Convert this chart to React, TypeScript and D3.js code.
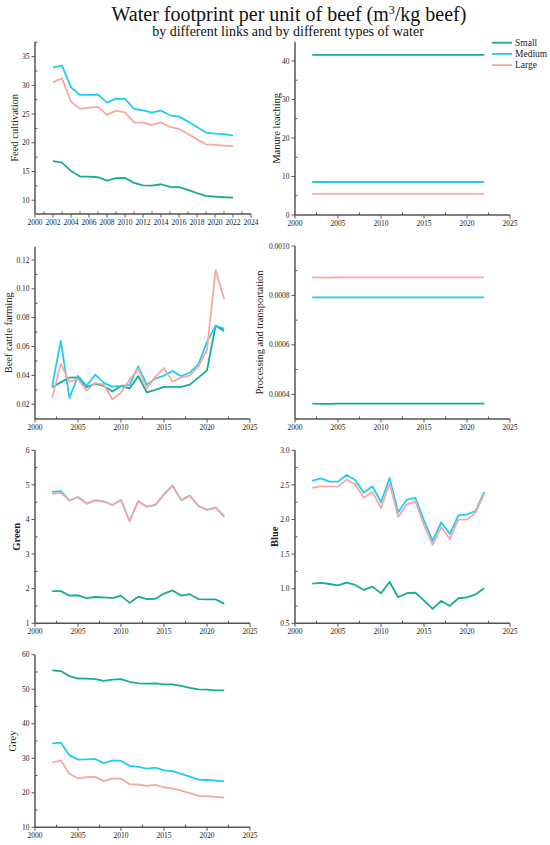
import React from "react";
import * as d3 from "d3";

const years = [2002, 2003, 2004, 2005, 2006, 2007, 2008, 2009, 2010, 2011, 2012, 2013, 2014, 2015, 2016, 2017, 2018, 2019, 2020, 2021, 2022];
const sizes = ["Small", "Medium", "Large"];
const colors = ["#17ad92", "#1ecdf6", "#f8a89f"];

// Feed cultivation
const feedSmall = [16.79, 16.55, 15.1, 14.12, 14.12, 14.0, 13.42, 13.83, 13.89, 13.0, 12.6, 12.55, 12.78, 12.32, 12.26, 11.8, 11.22, 10.76, 10.64, 10.52, 10.46];
const feedMedium = [33.14, 33.43, 29.66, 28.33, 28.33, 28.39, 27.0, 27.7, 27.63, 25.9, 25.66, 25.26, 25.6, 24.79, 24.56, 23.7, 22.76, 21.78, 21.6, 21.49, 21.25];
const feedLarge = [30.53, 31.23, 27.17, 25.9, 26.13, 26.24, 24.85, 25.6, 25.3, 23.57, 23.5, 23.1, 23.57, 22.76, 22.41, 21.54, 20.6, 19.74, 19.63, 19.51, 19.4];

// Manure leaching
const manureSmall = [41.6, 41.6, 41.6, 41.6, 41.6, 41.6, 41.6, 41.6, 41.6, 41.6, 41.6, 41.6, 41.6, 41.6, 41.6, 41.6, 41.6, 41.6, 41.6, 41.6, 41.6];
const manureMedium = [8.57, 8.57, 8.57, 8.57, 8.57, 8.57, 8.57, 8.57, 8.57, 8.57, 8.57, 8.57, 8.57, 8.57, 8.57, 8.57, 8.57, 8.57, 8.57, 8.57, 8.57];
const manureLarge = [5.5, 5.5, 5.5, 5.5, 5.5, 5.5, 5.5, 5.5, 5.5, 5.5, 5.5, 5.5, 5.5, 5.5, 5.5, 5.5, 5.5, 5.5, 5.5, 5.5, 5.5];

// Beef cattle farming
const farmSmall = [0.0318, 0.0352, 0.0385, 0.0387, 0.0318, 0.0343, 0.0327, 0.0288, 0.0327, 0.031, 0.0396, 0.0283, 0.03, 0.032, 0.032, 0.032, 0.0336, 0.0385, 0.0436, 0.0745, 0.0708];
const farmMedium = [0.0327, 0.0639, 0.0244, 0.0396, 0.0329, 0.0405, 0.0348, 0.0322, 0.0327, 0.0334, 0.0463, 0.0336, 0.0378, 0.0399, 0.0431, 0.0394, 0.042, 0.0477, 0.0632, 0.0743, 0.0724];
const farmLarge = [0.0246, 0.048, 0.0357, 0.0373, 0.0295, 0.0348, 0.0336, 0.0235, 0.0281, 0.0369, 0.0445, 0.031, 0.0392, 0.045, 0.0357, 0.0387, 0.0399, 0.0463, 0.0576, 0.113, 0.093];

// Processing and transportation
const procSmall = [0.000362, 0.000361, 0.000361, 0.000362, 0.000362, 0.000362, 0.000362, 0.000362, 0.000362, 0.000362, 0.000362, 0.000362, 0.000362, 0.000362, 0.000362, 0.000362, 0.000362, 0.000362, 0.000362, 0.000362, 0.000362];
const procMedium = [0.000792, 0.000792, 0.000792, 0.000792, 0.000792, 0.000792, 0.000792, 0.000792, 0.000792, 0.000792, 0.000792, 0.000792, 0.000792, 0.000792, 0.000792, 0.000792, 0.000792, 0.000792, 0.000792, 0.000792, 0.000792];
const procLarge = [0.000873, 0.000872, 0.000872, 0.000873, 0.000873, 0.000873, 0.000873, 0.000873, 0.000873, 0.000873, 0.000873, 0.000873, 0.000873, 0.000873, 0.000873, 0.000873, 0.000873, 0.000873, 0.000873, 0.000873, 0.000873];

// Green water
const greenSmall = [1.93, 1.93, 1.8, 1.81, 1.73, 1.76, 1.75, 1.73, 1.8, 1.59, 1.77, 1.7, 1.71, 1.86, 1.95, 1.8, 1.84, 1.7, 1.69, 1.69, 1.57];
const greenMedium = [4.8, 4.82, 4.55, 4.65, 4.46, 4.55, 4.52, 4.42, 4.56, 3.96, 4.53, 4.37, 4.42, 4.73, 4.98, 4.56, 4.69, 4.39, 4.28, 4.34, 4.08];
const greenLarge = [4.74, 4.77, 4.55, 4.65, 4.46, 4.55, 4.52, 4.42, 4.56, 3.96, 4.53, 4.37, 4.42, 4.73, 4.98, 4.56, 4.69, 4.39, 4.28, 4.34, 4.11];

// Blue water
const blueSmall = [1.073, 1.083, 1.068, 1.049, 1.088, 1.054, 0.982, 1.03, 0.934, 1.097, 0.876, 0.934, 0.943, 0.828, 0.708, 0.823, 0.751, 0.862, 0.876, 0.919, 1.006];
const blueMedium = [2.557, 2.595, 2.547, 2.547, 2.644, 2.571, 2.388, 2.48, 2.249, 2.6, 2.104, 2.287, 2.311, 1.988, 1.69, 1.96, 1.79, 2.06, 2.075, 2.123, 2.4];
const blueLarge = [2.456, 2.48, 2.48, 2.475, 2.576, 2.509, 2.316, 2.398, 2.167, 2.523, 2.037, 2.22, 2.258, 1.921, 1.632, 1.892, 1.719, 1.998, 1.998, 2.099, 2.369];

// Grey water
const greySmall = [55.46, 55.27, 53.8, 53.1, 53.05, 52.95, 52.4, 52.8, 52.9, 52.1, 51.7, 51.6, 51.7, 51.4, 51.4, 51.0, 50.4, 49.96, 49.86, 49.67, 49.67];
const greyMedium = [34.3, 34.5, 30.9, 29.6, 29.7, 29.8, 28.6, 29.3, 29.3, 27.8, 27.5, 27.0, 27.3, 26.5, 26.3, 25.5, 24.7, 23.8, 23.7, 23.5, 23.3];
const greyLarge = [28.7, 29.4, 25.5, 24.2, 24.5, 24.6, 23.4, 24.1, 24.1, 22.5, 22.4, 22.0, 22.3, 21.6, 21.3, 20.6, 19.9, 19.1, 19.0, 18.8, 18.6];

const font = "'Liberation Serif', 'Times New Roman', serif";
const axisColor = "#555";

interface PanelProps {
  left: number;
  top: number;
  width: number;
  height: number;
  xDomain: [number, number];
  xStep: number;
  yDomain: [number, number];
  yTicks: number[];
  yFormat: (v: number) => string;
  label: string;
  labelX: number;
  bold?: boolean;
  series: number[][];
}

const Panel: React.FC<PanelProps> = ({
  left,
  top,
  width,
  height,
  xDomain,
  xStep,
  yDomain,
  yTicks,
  yFormat,
  label,
  labelX,
  bold = false,
  series,
}) => {
  const x = d3.scaleLinear().domain(xDomain).range([left, left + width]);
  const y = d3.scaleLinear().domain(yDomain).range([top + height, top]);
  const xMajor = d3.range(xDomain[0], xDomain[1] + 0.001, xStep);
  const xMinor = xMajor.slice(0, -1).map((v) => v + xStep / 2);
  const yStep = yTicks[1] - yTicks[0];
  const yMinor = yTicks
    .map((v) => v + yStep / 2)
    .concat([yTicks[0] - yStep / 2])
    .filter((v) => v > yDomain[0] && v < yDomain[1]);
  const line = d3
    .line<number>()
    .x((_, i) => x(years[i]))
    .y((d) => y(d));
  const bottom = top + height;

  return (
    <g>
      {series.map((s, i) => (
        <path key={i} d={line(s) || ""} fill="none" stroke={colors[i]} strokeWidth={1.8} strokeLinejoin="round" />
      ))}
      {/* axes */}
      <line x1={left} x2={left} y1={top} y2={bottom} stroke={axisColor} strokeWidth={1.5} />
      <line x1={left} x2={left + width} y1={bottom} y2={bottom} stroke={axisColor} strokeWidth={1.5} />
      {xMajor.map((v) => (
        <g key={"xm" + v}>
          <line x1={x(v)} x2={x(v)} y1={bottom} y2={bottom + 3.5} stroke={axisColor} strokeWidth={1} />
          <text x={x(v)} y={bottom + 11} fontSize={7.5} textAnchor="middle" fontFamily={font} fill="#222">
            {v}
          </text>
        </g>
      ))}
      {xMinor.map((v) => (
        <line key={"xn" + v} x1={x(v)} x2={x(v)} y1={bottom} y2={bottom - 2.5} stroke={axisColor} strokeWidth={1} />
      ))}
      {yTicks.map((v) => (
        <g key={"ym" + v}>
          <line x1={left} x2={left - 3.5} y1={y(v)} y2={y(v)} stroke={axisColor} strokeWidth={1} />
          <text x={left - 5.5} y={y(v) + 2.6} fontSize={7.5} textAnchor="end" fontFamily={font} fill="#222">
            {yFormat(v)}
          </text>
        </g>
      ))}
      {yMinor.map((v) => (
        <line key={"yn" + v} x1={left} x2={left + 2.5} y1={y(v)} y2={y(v)} stroke={axisColor} strokeWidth={1} />
      ))}
      <text
        transform={`translate(${labelX},${top + height / 2}) rotate(-90)`}
        fontSize={10.5}
        textAnchor="middle"
        fontFamily={font}
        fontWeight={bold ? "bold" : "normal"}
        fill="#222"
      >
        {label}
      </text>
    </g>
  );
};

const App: React.FC = () => {
  const fmtInt = (v: number) => d3.format("d")(v);
  return (
    <svg width={550} height={845} style={{ position: "absolute", left: 0, top: 0, background: "#fff" }}>
      <text x={289} y={21} fontSize={20} textAnchor="middle" fontFamily={font} fill="#111">
        Water footprint per unit of beef (m<tspan dy={-7} fontSize={12}>3</tspan>
        <tspan dy={7}>/kg beef)</tspan>
      </text>
      <text x={288} y={36} fontSize={14} textAnchor="middle" fontFamily={font} fill="#111">
        by different links and by different types of water
      </text>

      <Panel
        left={35}
        top={41.7}
        width={216}
        height={172.3}
        xDomain={[2000, 2024]}
        xStep={2}
        yDomain={[7.6, 37.6]}
        yTicks={[10, 15, 20, 25, 30, 35]}
        yFormat={fmtInt}
        label="Feed cultivation"
        labelX={18}
        series={[feedSmall, feedMedium, feedLarge]}
      />
      <Panel
        left={295}
        top={41.7}
        width={215}
        height={173.3}
        xDomain={[2000, 2025]}
        xStep={5}
        yDomain={[0, 45]}
        yTicks={[0, 10, 20, 30, 40]}
        yFormat={fmtInt}
        label="Manure leaching"
        labelX={280}
        series={[manureSmall, manureMedium, manureLarge]}
      />
      <Panel
        left={35}
        top={246.7}
        width={215}
        height={172.3}
        xDomain={[2000, 2025]}
        xStep={5}
        yDomain={[0.0098, 0.1292]}
        yTicks={[0.02, 0.04, 0.06, 0.08, 0.1, 0.12]}
        yFormat={d3.format(".2f")}
        label="Beef cattle farming"
        labelX={12}
        series={[farmSmall, farmMedium, farmLarge]}
      />
      <Panel
        left={295}
        top={246}
        width={215}
        height={173}
        xDomain={[2000, 2025]}
        xStep={5}
        yDomain={[0.0003, 0.001]}
        yTicks={[0.0004, 0.0006, 0.0008, 0.001]}
        yFormat={d3.format(".4f")}
        label="Processing and transportation"
        labelX={263}
        series={[procSmall, procMedium, procLarge]}
      />
      <Panel
        left={35}
        top={450.3}
        width={215}
        height={173}
        xDomain={[2000, 2025]}
        xStep={5}
        yDomain={[1, 6]}
        yTicks={[1, 2, 3, 4, 5, 6]}
        yFormat={fmtInt}
        label="Green"
        labelX={20}
        bold
        series={[greenSmall, greenMedium, greenLarge]}
      />
      <Panel
        left={295}
        top={450.3}
        width={215}
        height={173}
        xDomain={[2000, 2025]}
        xStep={5}
        yDomain={[0.5, 3.0]}
        yTicks={[0.5, 1.0, 1.5, 2.0, 2.5, 3.0]}
        yFormat={d3.format(".1f")}
        label="Blue"
        labelX={278}
        bold
        series={[blueSmall, blueMedium, blueLarge]}
      />
      <Panel
        left={35}
        top={654.7}
        width={215}
        height={172.6}
        xDomain={[2000, 2025]}
        xStep={5}
        yDomain={[10, 60]}
        yTicks={[10, 20, 30, 40, 50, 60]}
        yFormat={fmtInt}
        label="Grey"
        labelX={16}
        series={[greySmall, greyMedium, greyLarge]}
      />

      {/* legend */}
      {sizes.map((s, i) => (
        <g key={s}>
          <line x1={492} x2={512} y1={42.7 + i * 11.2} y2={42.7 + i * 11.2} stroke={colors[i]} strokeWidth={1.8} />
          <text x={515} y={42.7 + i * 11.2 + 3.2} fontSize={9.5} fontFamily={font} fill="#222">
            {s}
          </text>
        </g>
      ))}
    </svg>
  );
};

export default App;
